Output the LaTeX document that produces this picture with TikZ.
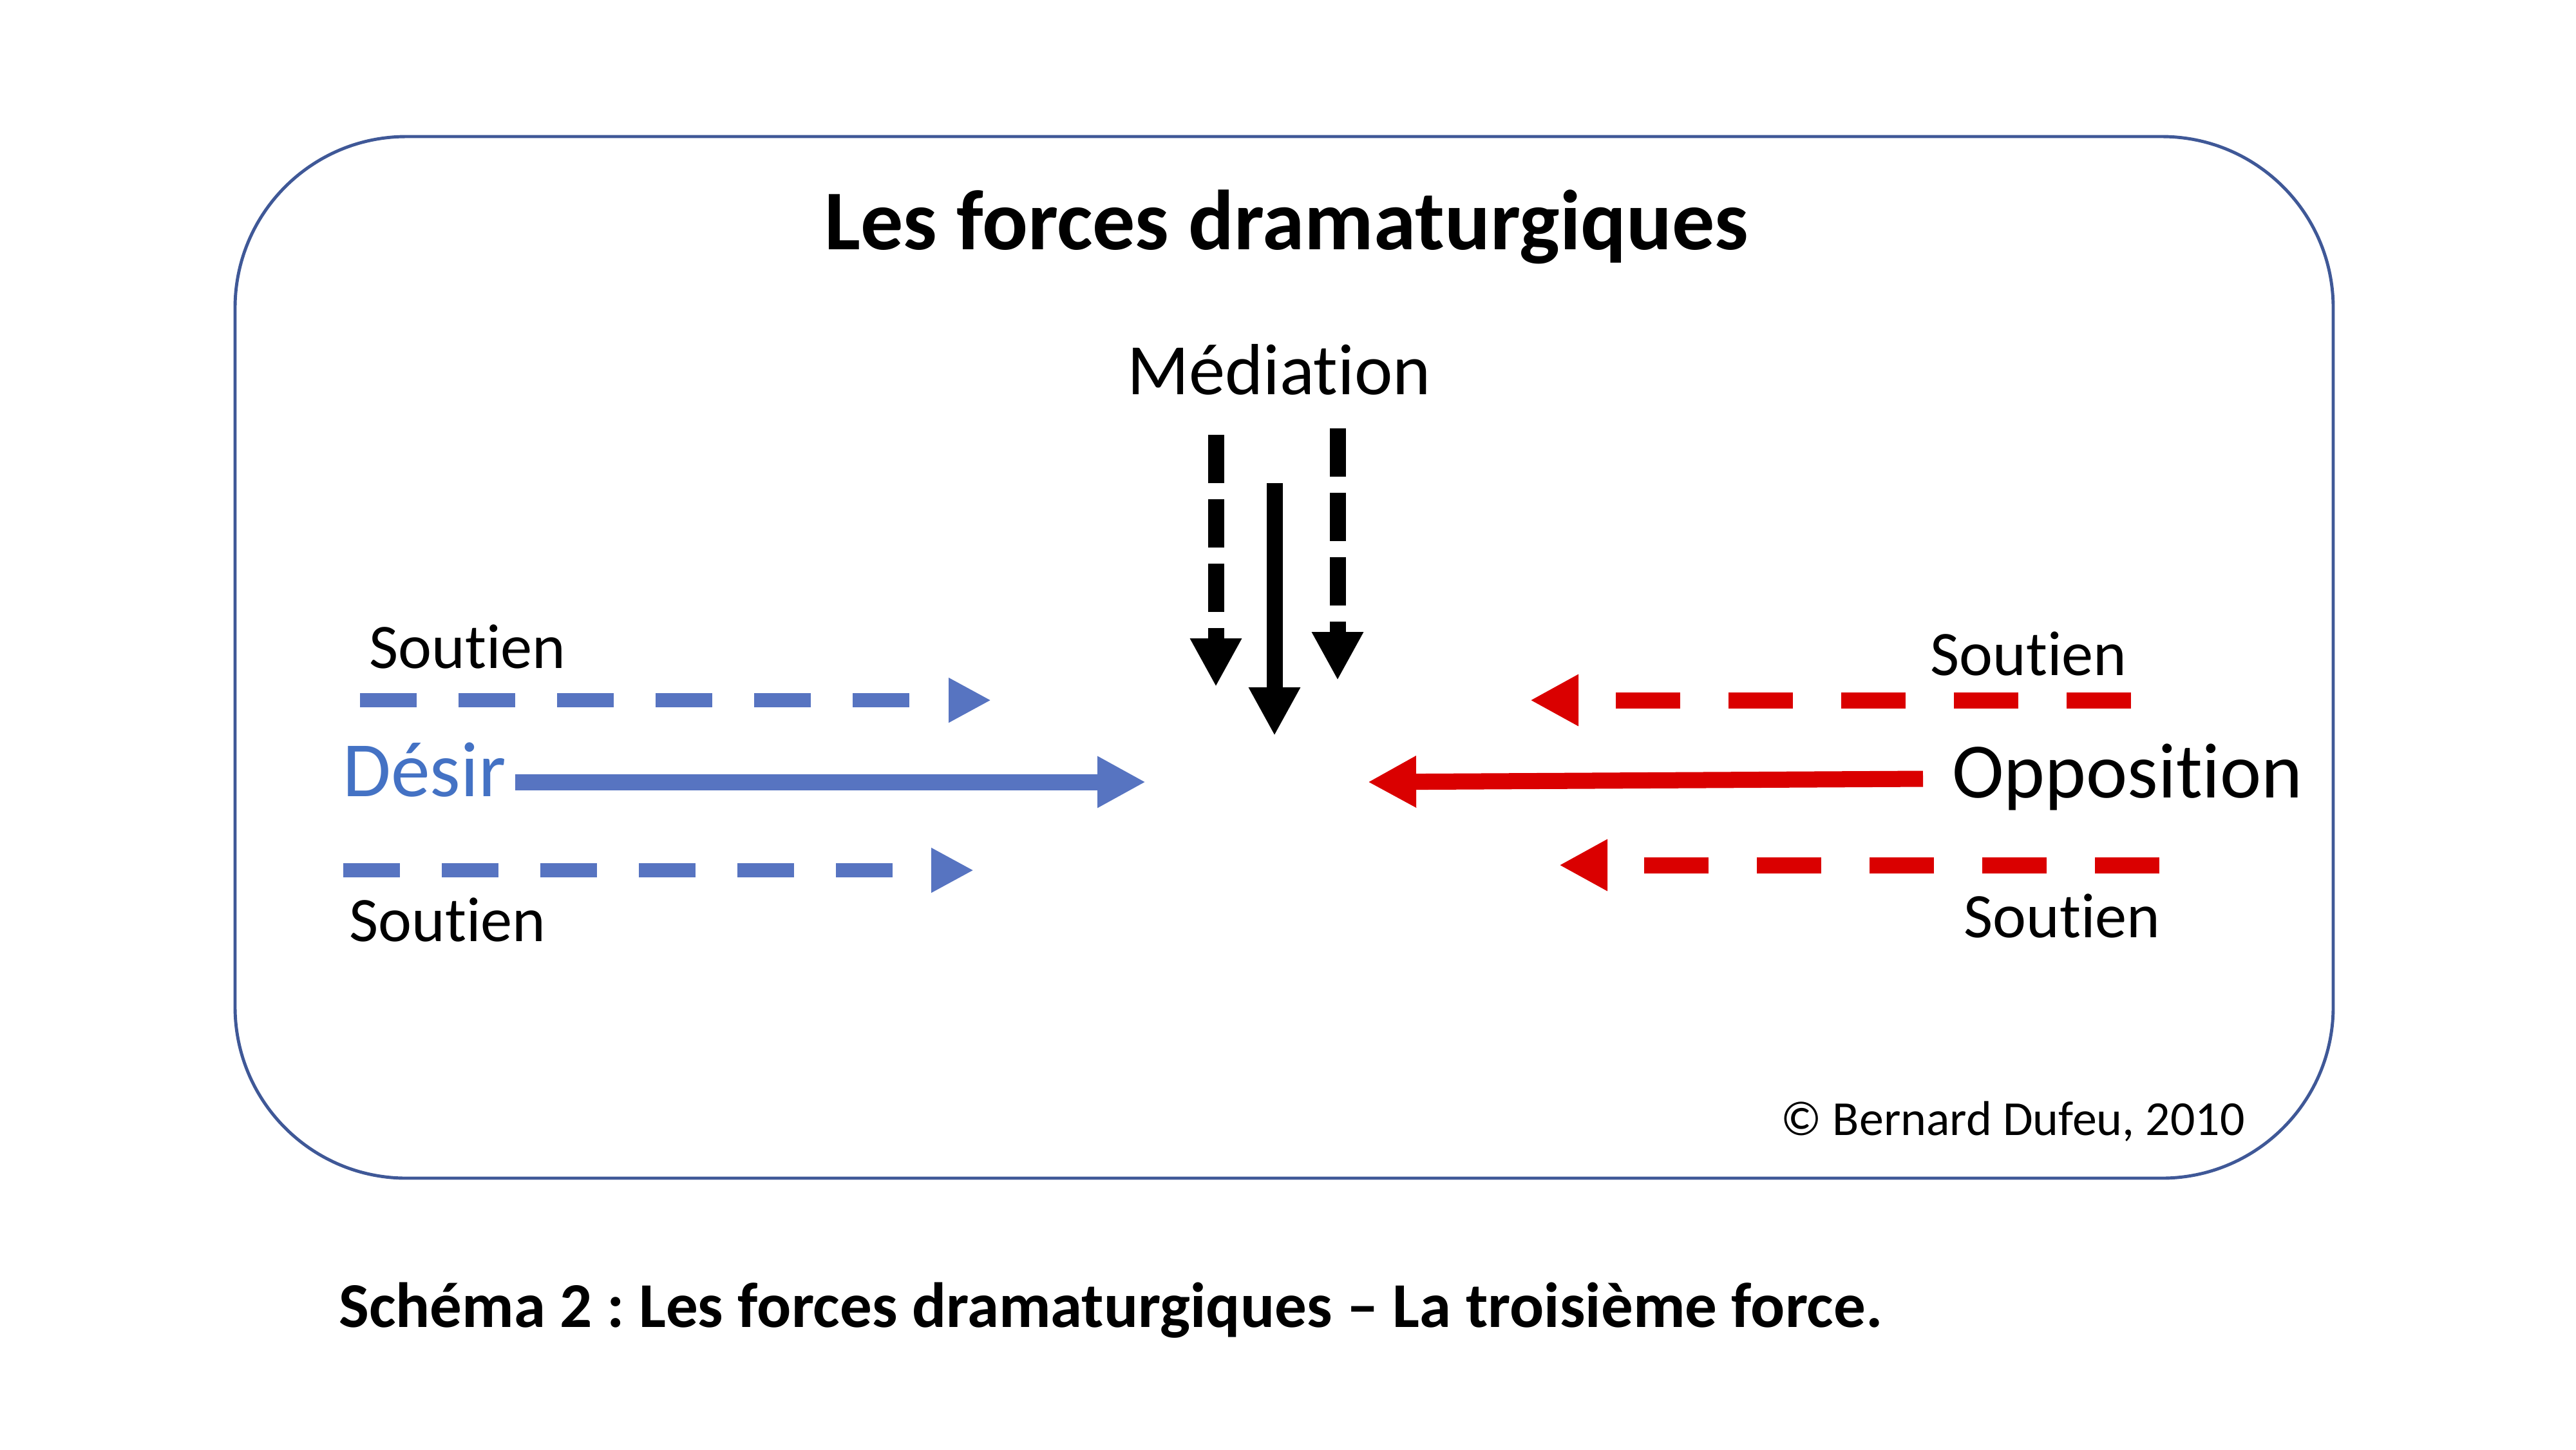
\documentclass[tikz,border=0pt]{standalone}
\usepackage{fontspec}
\setmainfont{Carlito}[Ligatures=NoCommon]
\usetikzlibrary{arrows.meta}
\frenchspacing

\definecolor{cadre}{HTML}{3F5897}
\definecolor{bleu}{HTML}{5774C1}
\definecolor{bleutexte}{HTML}{4472C4}
\definecolor{rouge}{HTML}{DA0000}

\begin{document}
\begin{tikzpicture}[x=0.5cm, y=-0.5cm,
    texte/.style={inner sep=0pt, anchor=base west},
    soutien/.style={texte, font=\fontsize{14}{16}\selectfont},
    grand/.style={texte, font=\fontsize{17.3}{20}\selectfont},
    tete/.style={-{Triangle[length=0.375cm, width=0.375cm]}},
    petitetete/.style={-{Triangle[length=0.33cm, width=0.325cm]}},
    fleche/.style={line width=3.56pt, tete},
    pointille bleu/.style={draw=bleu, line width=3.13pt, petitetete, dash pattern=on 0.44cm off 0.325cm},
    pointille rouge/.style={draw=rouge, fleche, dash pattern=on 0.5cm off 0.375cm},
    pointille noir/.style={draw=black, fleche, dash pattern=on 0.375cm off 0.125cm}]

    \useasboundingbox (0,0) rectangle (40,22.5);

    % cadre
    \draw[cadre, line width=0.7pt, rounded corners=1.33cm] (3.65,2.12) rectangle (36.23,18.29);

    % textes
    \node[inner sep=0pt, anchor=base, font=\fontsize{18.8}{22}\selectfont\bfseries] (titre) at (19.98,3.87) {Les forces dramaturgiques};
    \node[inner sep=0pt, anchor=base, font=\fontsize{16}{19}\selectfont] (mediation) at (19.86,6.12) {Médiation};

    \node[soutien] (soutienHG) at (5.72,10.37) {Soutien};
    \node[grand, text=bleutexte] (desir) at (5.31,12.36) {Désir};
    \node[soutien] (soutienBG) at (5.41,14.61) {Soutien};

    \node[soutien] (soutienHD) at (29.96,10.48) {Soutien};
    \node[grand] (opposition) at (30.30,12.38) {Opposition};
    \node[soutien] (soutienBD) at (30.48,14.55) {Soutien};

    \node[texte, font=\fontsize{10.8}{13}\selectfont] (copyright) at (27.64,17.62) {© Bernard Dufeu, 2010};
    \node[texte, font=\fontsize{14.1}{17}\selectfont\bfseries] (legende) at (5.25,20.60) {Schéma 2 : Les forces dramaturgiques – La troisième force.};

    % extrémités des flèches
    \coordinate (medGa) at (18.88,6.75);   \coordinate (medGb) at (18.88,10.66);
    \coordinate (medCa) at (19.79,7.50);   \coordinate (medCb) at (19.79,11.42);
    \coordinate (medDa) at (20.77,6.65);   \coordinate (medDb) at (20.77,10.56);

    \coordinate (desHa) at (5.59,10.87);   \coordinate (desHb) at (15.39,10.87);
    \coordinate (desCa) at (8.00,12.14);   \coordinate (desCb) at (17.79,12.14);
    \coordinate (desBa) at (5.33,13.51);   \coordinate (desBb) at (15.12,13.51);

    \coordinate (oppHa) at (33.09,10.87);  \coordinate (oppHb) at (23.76,10.87);
    \coordinate (oppCa) at (29.86,12.09);  \coordinate (oppCb) at (21.24,12.14);
    \coordinate (oppBa) at (33.53,13.43);  \coordinate (oppBb) at (24.21,13.43);

    % médiation
    \draw[pointille noir] (medGa) -- (medGb);
    \draw[draw=black, fleche] (medCa) -- (medCb);
    \draw[pointille noir] (medDa) -- (medDb);

    % désir
    \draw[pointille bleu] (desHa) -- (desHb);
    \draw[draw=bleu, fleche] (desCa) -- (desCb);
    \draw[pointille bleu] (desBa) -- (desBb);

    % opposition
    \draw[pointille rouge] (oppHa) -- (oppHb);
    \draw[draw=rouge, fleche] (oppCa) -- (oppCb);
    \draw[pointille rouge] (oppBa) -- (oppBb);
\end{tikzpicture}
\end{document}
